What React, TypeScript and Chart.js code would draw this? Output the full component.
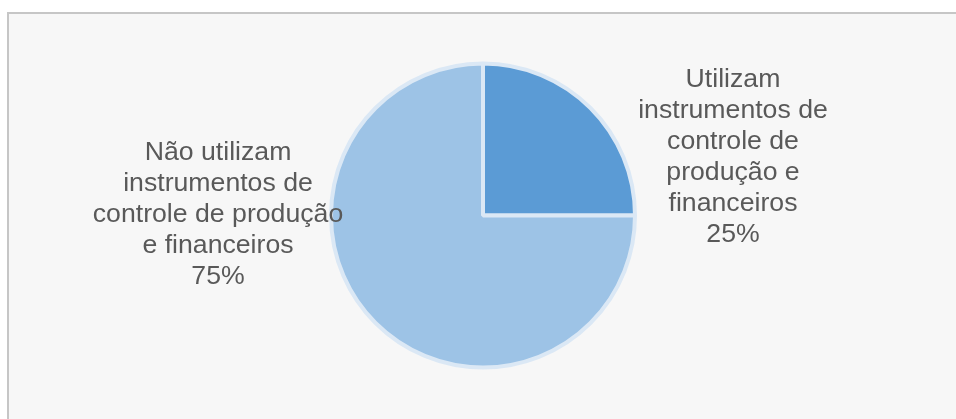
import React, { useEffect, useRef } from "react";
import { Chart, registerables } from "chart.js";

Chart.register(...registerables);

const categories = [
  "Utilizam instrumentos de controle de produção e financeiros",
  "Não utilizam instrumentos de controle de produção e financeiros",
];
const values = [25, 75];
const percentLabels = ["25%", "75%"];
const labelLines = [
  ["Utilizam", "instrumentos de", "controle de", "produção e", "financeiros"],
  ["Não utilizam", "instrumentos de", "controle de produção", "e financeiros"],
];
const sliceColors = ["#5b9bd5", "#9dc3e6"];

// label anchor offsets (centre x, first baseline y) relative to pie centre
const labelAnchors = [
  { dx: 250, dy: -128.5 },
  { dx: -265, dy: -55.5 },
];

const dataLabelPlugin = {
  id: "excelDataLabels",
  afterDatasetsDraw(chart: any) {
    const ctx = chart.ctx;
    const meta = chart.getDatasetMeta(0);
    ctx.save();
    ctx.fillStyle = "#595959";
    ctx.font = '26.67px "Liberation Sans", Arial, sans-serif';
    ctx.textAlign = "center";
    ctx.textBaseline = "alphabetic";
    const lh = 31;
    meta.data.forEach((arc: any, i: number) => {
      const a = labelAnchors[i];
      const x = arc.x + a.dx;
      let y = arc.y + a.dy;
      const lines = [...labelLines[i], percentLabels[i]];
      lines.forEach((ln) => {
        ctx.fillText(ln, x, y);
        y += lh;
      });
    });
    ctx.restore();
  },
};

export default function App() {
  const ref = useRef<HTMLCanvasElement | null>(null);
  useEffect(() => {
    if (!ref.current) return;
    const chart = new Chart(ref.current, {
      type: "pie",
      data: {
        labels: categories,
        datasets: [
          {
            data: values,
            backgroundColor: sliceColors,
            borderColor: "#dbe8f5",
            borderWidth: 4,
          },
        ],
      },
      options: {
        responsive: false,
        animation: false,
        layout: { padding: { left: 10, right: 0, top: 61.5, bottom: 49.5 } },
        plugins: {
          legend: { display: false },
          tooltip: { enabled: false },
          title: { display: false },
        },
      },
      plugins: [dataLabelPlugin],
    });
    return () => chart.destroy();
  }, []);

  return (
    <div style={{ position: "absolute", left: 0, top: 0, width: 956, height: 419, background: "#ffffff", overflow: "hidden" }}>
      <div
        style={{
          position: "absolute",
          left: 7,
          top: 12,
          width: 949,
          height: 407,
          background: "#f7f7f7",
          borderTop: "2px solid #c6c6c6",
          borderLeft: "2px solid #c6c6c6",
          boxSizing: "border-box",
        }}
      />
      <canvas
        ref={ref}
        width={956}
        height={419}
        style={{ position: "absolute", left: 0, top: 0, width: 956, height: 419 }}
      />
    </div>
  );
}
